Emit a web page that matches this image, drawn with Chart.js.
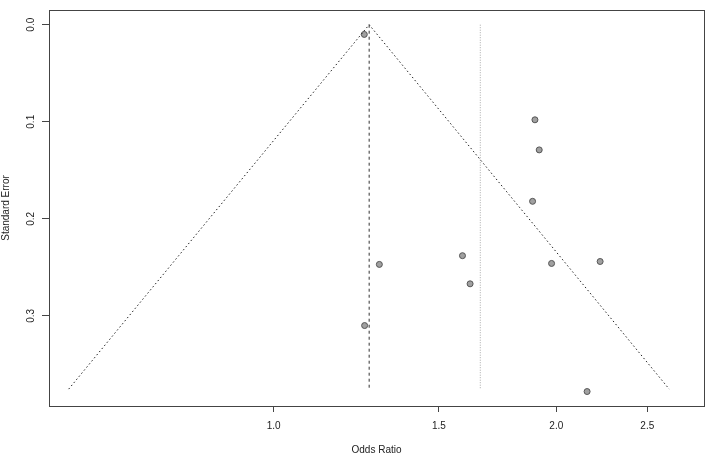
<!DOCTYPE html>
<html>
<head>
<meta charset="utf-8">
<script src="https://cdn.jsdelivr.net/npm/chart.js@4.4.1/dist/chart.umd.min.js"></script>
<style>
html,body{margin:0;padding:0;background:#fff;}
#wrap{width:708px;height:456px;position:relative;}
</style>
</head>
<body>
<div id="wrap"><canvas id="c" width="708" height="456"></canvas></div>
<script>
// Study estimates (odds ratio, standard error)
const oddsRatios = [1.249, 1.898, 1.918, 1.887, 1.296, 1.589, 1.619, 1.250, 1.977, 2.227, 2.157];
const stdErrors  = [0.010, 0.098, 0.129, 0.182, 0.247, 0.238, 0.267, 0.310, 0.246, 0.244, 0.378];
// Funnel (pseudo-confidence region) vertices
const funnelOR = [0.605, 1.264, 2.638];
const funnelSE = [0.3755, 0.0, 0.3755];
// Reference lines
const pooledOR = 1.264;
const refOR = 1.660;
const refSE = [0.0, 0.3755];
// Tick labels
const xTicks = [1.0, 1.5, 2.0, 2.5];
const yTicks = [0.0, 0.1, 0.2, 0.3];

const FONT = "'Liberation Sans', Arial, Helvetica, sans-serif";

const boxPlugin = {
  id: 'box',
  afterDraw(chart) {
    const {ctx, chartArea: a} = chart;
    ctx.save();
    ctx.strokeStyle = '#444';
    ctx.lineWidth = 1;
    ctx.strokeRect(Math.round(a.left) + 0.5, Math.round(a.top) + 0.5,
                   Math.round(a.right - a.left), Math.round(a.bottom - a.top));
    ctx.restore();
  }
};

new Chart(document.getElementById('c'), {
  type: 'scatter',
  data: {
    datasets: [
      {
        type: 'line',
        data: funnelOR.map((x, i) => ({x, y: funnelSE[i]})),
        borderColor: '#222',
        borderWidth: 1,
        borderDash: [1.5, 2.5],
        pointRadius: 0,
        fill: false,
        tension: 0
      },
      {
        type: 'line',
        data: refSE.map(y => ({x: pooledOR, y})),
        borderColor: '#333',
        borderWidth: 1,
        borderDash: [3, 3],
        pointRadius: 0,
        fill: false
      },
      {
        type: 'line',
        data: refSE.map(y => ({x: refOR, y})),
        borderColor: '#aaa',
        borderWidth: 1,
        borderDash: [1, 1.5],
        pointRadius: 0,
        fill: false
      },
      {
        data: oddsRatios.map((x, i) => ({x, y: stdErrors[i]})),
        backgroundColor: '#a0a0a0',
        borderColor: '#555',
        borderWidth: 1,
        pointRadius: 3,
        pointHoverRadius: 3
      }
    ]
  },
  options: {
    responsive: false,
    animation: false,
    events: [],
    layout: {padding: {left: 0, right: 2, top: 2, bottom: 0}},
    plugins: {legend: {display: false}, tooltip: {enabled: false}},
    scales: {
      x: {
        type: 'logarithmic',
        min: 0.5765,
        max: 2.873,
        afterBuildTicks: s => { s.ticks = xTicks.map(v => ({value: v})); },
        afterFit: s => { s.height = 50; },
        ticks: {
          autoSkip: false,
          maxRotation: 0,
          padding: 8,
          color: '#222',
          font: {family: FONT, size: 10},
          callback: v => Number(v).toFixed(1)
        },
        grid: {drawOnChartArea: false, tickLength: 6, color: '#444', tickColor: '#444'},
        border: {display: false},
        title: {display: true, text: 'Odds Ratio', color: '#222', font: {family: FONT, size: 10}, padding: {top: 0, bottom: 0}}
      },
      y: {
        type: 'linear',
        reverse: true,
        min: -0.01515,
        max: 0.3929,
        afterBuildTicks: s => { s.ticks = yTicks.map(v => ({value: v})); },
        afterFit: s => { s.width = 49; },
        ticks: {
          autoSkip: false,
          minRotation: 90,
          maxRotation: 90,
          crossAlign: 'center',
          padding: 4,
          color: '#222',
          font: {family: FONT, size: 10},
          callback: v => Number(v).toFixed(1)
        },
        grid: {drawOnChartArea: false, tickLength: 7, color: '#444', tickColor: '#444'},
        border: {display: false},
        title: {display: true, text: 'Standard Error', color: '#222', font: {family: FONT, size: 10}, padding: {top: 0, bottom: 0}}
      }
    }
  },
  plugins: [boxPlugin]
});
</script>
</body>
</html>
